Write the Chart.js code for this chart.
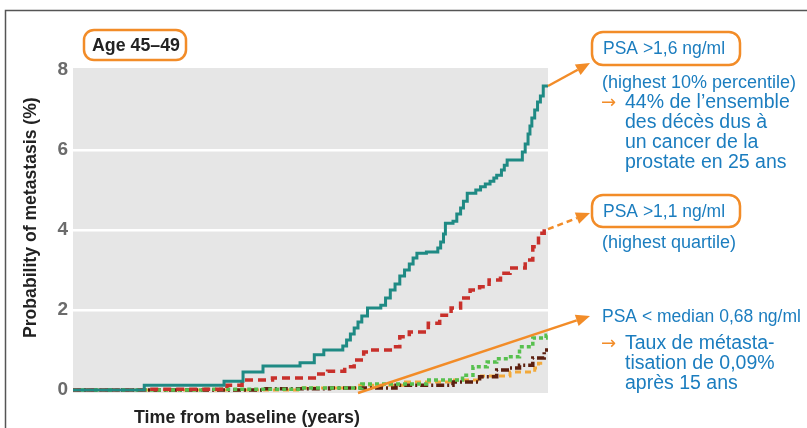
<!DOCTYPE html>
<html>
<head>
<meta charset="utf-8">
<script src="https://cdn.jsdelivr.net/npm/chart.js@4/dist/chart.umd.min.js"></script>
<style>
  html, body { margin: 0; padding: 0; background: #fff; }
  #wrap { position: relative; width: 807px; height: 428px; }
</style>
</head>
<body>
<div id="wrap"><canvas id="kmCanvas" width="807" height="428"></canvas></div>
<script>
// Courbes de Kaplan-Meier (âge 45-49)
const yTicks = [0, 2, 4, 6, 8];

const psa16Years = [0, 3.75, 7.95, 8.95, 10.0, 11.95, 12.7, 13.2, 14.2, 14.4, 14.6, 14.8, 15.0, 15.2, 15.5, 16.2, 16.45, 16.7, 16.95, 17.2, 17.45, 17.7, 17.9, 18.1, 18.6, 19.2, 19.35, 19.5, 19.6, 20.0, 20.2, 20.4, 20.55, 20.75, 21.2, 21.45, 21.7, 21.95, 22.15, 22.3, 22.55, 22.7, 22.85, 23.65, 23.8, 23.95, 24.05, 24.15, 24.3, 24.45, 24.6, 24.75, 25.0];
const psa16Risk  = [0, 0.12, 0.22, 0.45, 0.6, 0.68, 0.88, 1.0, 1.1, 1.25, 1.4, 1.55, 1.7, 1.85, 2.05, 2.12, 2.3, 2.5, 2.65, 2.85, 3.0, 3.15, 3.3, 3.42, 3.45, 3.55, 3.7, 3.9, 4.17, 4.22, 4.4, 4.55, 4.72, 4.92, 5.0, 5.08, 5.15, 5.22, 5.3, 5.37, 5.5, 5.62, 5.75, 5.95, 6.15, 6.4, 6.6, 6.8, 7.0, 7.2, 7.35, 7.6, 7.6];

const psa11Years = [0, 3.9, 8.1, 8.9, 10.5, 12.7, 13.4, 14.3, 14.8, 15.3, 15.55, 16.7, 17.2, 17.7, 18.7, 19.3, 19.9, 20.4, 20.9, 21.4, 21.9, 22.5, 23.0, 23.8, 24.2, 24.5, 24.8, 25.0];
const psa11Risk  = [0, 0.02, 0.12, 0.25, 0.3, 0.4, 0.47, 0.58, 0.75, 0.95, 1.0, 1.08, 1.33, 1.45, 1.67, 1.87, 2.05, 2.3, 2.5, 2.58, 2.75, 2.92, 3.05, 3.25, 3.58, 3.92, 4.02, 4.02];

const greenYears = [0, 7, 12, 15.2, 18.6, 20.5, 21.05, 21.8, 22.3, 22.9, 23.5, 24.2, 24.9, 25.0];
const greenRisk  = [0, 0.02, 0.05, 0.15, 0.25, 0.37, 0.58, 0.7, 0.78, 0.83, 1.08, 1.3, 1.37, 1.37];

const brownYears = [0, 10, 13.5, 17, 20, 21.4, 22.3, 23.0, 23.5, 24.2, 24.8, 25.0];
const brownRisk  = [0, 0.03, 0.05, 0.12, 0.2, 0.33, 0.5, 0.55, 0.62, 0.8, 1.0, 1.0];

const orangeYears = [0, 12, 15, 17.5, 20, 21.5, 23.0, 24.3, 24.5, 24.9];
const orangeRisk  = [0, 0.05, 0.12, 0.2, 0.25, 0.35, 0.45, 0.55, 0.67, 0.67];

const pts = (xs, ys) => xs.map((x, i) => ({ x: x, y: ys[i] }));

const ORANGE = '#f28c28';
const BLUE = '#1b7dbf';
const FAMILY = '"Liberation Sans", Arial, sans-serif';

// écrit un texte en ajustant la taille de police à une largeur donnée
function fitText(ctx, text, x, y, w, weight) {
    ctx.font = (weight || '') + ' 100px ' + FAMILY;
    const size = 100 * w / ctx.measureText(text).width;
    ctx.font = (weight || '') + ' ' + size.toFixed(2) + 'px ' + FAMILY;
    ctx.fillText(text, x, y);
}

function arrow(ctx, x1, y1, x2, y2, dashed) {
    const a = Math.atan2(y2 - y1, x2 - x1);
    const hl = 14, hw = 6;
    const bx = x2 - hl * Math.cos(a), by = y2 - hl * Math.sin(a);
    ctx.save();
    ctx.strokeStyle = ORANGE; ctx.fillStyle = ORANGE; ctx.lineWidth = 2.5;
    if (dashed) ctx.setLineDash([6, 4]);
    ctx.beginPath(); ctx.moveTo(x1, y1); ctx.lineTo(bx, by); ctx.stroke();
    ctx.setLineDash([]);
    ctx.beginPath();
    ctx.moveTo(x2, y2);
    ctx.lineTo(bx + hw * Math.sin(a), by - hw * Math.cos(a));
    ctx.lineTo(bx - hw * Math.sin(a), by + hw * Math.cos(a));
    ctx.closePath(); ctx.fill();
    ctx.restore();
}

function roundBox(ctx, x, y, w, h, r) {
    ctx.save();
    ctx.strokeStyle = ORANGE; ctx.lineWidth = 2.5;
    ctx.beginPath(); ctx.roundRect(x, y, w, h, r); ctx.stroke();
    ctx.restore();
}

const decor = {
    id: 'decor',
    beforeDraw(chart) {
        const { ctx, chartArea: a } = chart;
        ctx.save();
        ctx.fillStyle = '#e6e6e6';
        ctx.fillRect(a.left, a.top - 2, a.right - a.left, a.bottom - a.top + 5);
        ctx.restore();
    },
    afterDraw(chart) {
        const { ctx, scales } = chart;
        const X = v => scales.x.getPixelForValue(v), Y = v => scales.y.getPixelForValue(v);
        ctx.save();
        // cadre
        ctx.strokeStyle = '#555'; ctx.lineWidth = 1.5;
        ctx.beginPath(); ctx.moveTo(5.5, 428); ctx.lineTo(5.5, 10.5); ctx.lineTo(807, 10.5); ctx.stroke();

        // titres des axes
        ctx.fillStyle = '#222';
        ctx.textAlign = 'left'; ctx.textBaseline = 'middle';
        fitText(ctx, 'Time from baseline (years)', 134, 418, 226, 'bold');
        ctx.save();
        ctx.translate(31, 218); ctx.rotate(-Math.PI / 2);
        fitText(ctx, 'Probability of metastasis (%)', -120, 0, 241, 'bold');
        ctx.restore();

        // encadré âge
        roundBox(ctx, 84, 30, 102, 30, 10);
        ctx.fillStyle = '#222';
        fitText(ctx, 'Age 45\u201349', 92, 46, 88, 'bold');

        // flèches
        const lastT = psa16Years.length - 1, lastR = psa11Years.length - 1;
        arrow(ctx, X(psa16Years[lastT]), Y(psa16Risk[lastT]), 590, 63, false);
        arrow(ctx, X(psa11Years[lastR]), Y(psa11Risk[lastR]), 590, 213, true);
        arrow(ctx, X(15), Y(0) + 3, 590, 316, false);

        // annotations
        roundBox(ctx, 592, 32, 148, 33, 11);
        roundBox(ctx, 592, 195, 148, 32, 11);
        ctx.fillStyle = BLUE;
        ctx.font = '17.5px ' + FAMILY;
        ctx.fillText('PSA >1,6 ng/ml', 603, 49);
        ctx.fillText('PSA >1,1 ng/ml', 603, 212);
        ctx.fillText('PSA < median 0,68 ng/ml', 602, 317);
        ctx.font = '18px ' + FAMILY;
        ctx.fillText('(highest 10% percentile)', 602, 83);
        ctx.fillText('(highest quartile)', 602, 243);
        ctx.font = '19.5px ' + FAMILY;
        ['44% de l\u2019ensemble', 'des d\u00e9c\u00e8s dus \u00e0', 'un cancer de la', 'prostate en 25 ans']
            .forEach((t, i) => ctx.fillText(t, 625, 103 + i * 20));
        ['Taux de m\u00e9tasta-', 'tisation de 0,09%', 'apr\u00e8s 15 ans']
            .forEach((t, i) => ctx.fillText(t, 625, 344 + i * 20));
        ctx.fillStyle = ORANGE;
        ctx.font = '18px "DejaVu Sans", sans-serif';
        ctx.fillText('\u2192', 601, 103);
        ctx.fillText('\u2192', 601, 344);
        ctx.restore();
    }
};

const line = (data, color, width, dash) => ({
    data: data, borderColor: color, borderWidth: width, borderDash: dash,
    stepped: true, pointRadius: 0, fill: false, clip: false
});

new Chart(document.getElementById('kmCanvas'), {
    type: 'line',
    data: {
        datasets: [
            line(pts(psa16Years, psa16Risk), '#1f8a84', 3, []),
            line(pts(psa11Years, psa11Risk), '#c8302b', 3.5, [8, 5]),
            line(pts(greenYears, greenRisk), '#57c04e', 3.5, [4, 3]),
            line(pts(brownYears, brownRisk), '#5c1f0f', 3.5, [8, 3, 2, 3]),
            line(pts(orangeYears, orangeRisk), '#f2a93b', 3, [6, 4])
        ]
    },
    options: {
        responsive: false,
        animation: false,
        layout: { padding: { left: 0, right: 259, top: 70, bottom: 38 } },
        plugins: { legend: { display: false }, tooltip: { enabled: false } },
        scales: {
            x: {
                type: 'linear', min: 0, max: 25,
                display: false
            },
            y: {
                min: 0, max: 8,
                afterFit: s => { s.width = 73; },
                afterBuildTicks: s => { s.ticks = yTicks.map(v => ({ value: v })); },
                ticks: {
                    padding: 5, color: '#6b6b6b',
                    font: { family: FAMILY, size: 19, weight: 'bold' }
                },
                grid: {
                    drawTicks: false, lineWidth: 2.5,
                    color: c => (c.tick && c.tick.value > 0 && c.tick.value < 8) ? '#ffffff' : 'rgba(0,0,0,0)'
                },
                border: { display: false }
            }
        }
    },
    plugins: [decor]
});
</script>
</body>
</html>
